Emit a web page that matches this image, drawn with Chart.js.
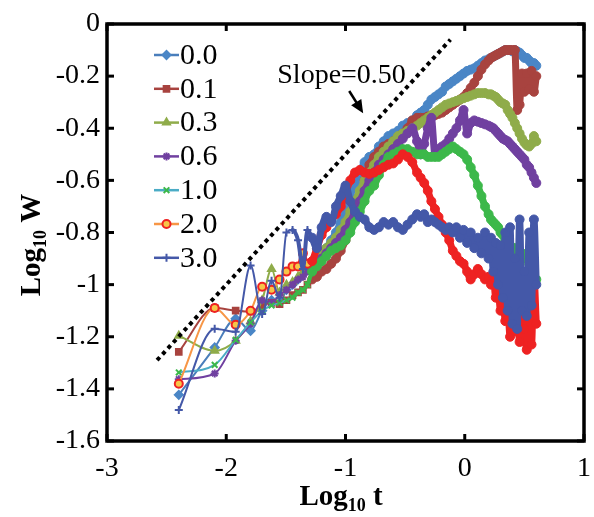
<!DOCTYPE html>
<html><head><meta charset="utf-8">
<script src="https://cdn.jsdelivr.net/npm/chart.js@4/dist/chart.umd.min.js"></script>
<style>html,body{margin:0;padding:0;background:#fff;}#wrap{width:594px;height:517px;}</style>
</head><body><div id="wrap"><canvas id="c" width="594" height="517"></canvas></div>
<script>
// ---- data (log10 t, log10 W) ----
const seriesNames = ['0.0','0.1','0.3','0.6','1.0','2.0','3.0'];
const logT = [
-2.398,-2.097,-1.921,-1.796,-1.699,-1.620,-1.553,-1.495,-1.444,-1.398,-1.357,-1.319,
-1.28,-1.24,-1.20,-1.16,-1.12,-1.08,-1.04,-1.00,-0.96,-0.92,-0.88,-0.84,-0.80,-0.76,-0.72,-0.68,-0.64,-0.60,-0.56,-0.52,-0.48,-0.44,-0.40,
-0.37,-0.34,-0.31,-0.28,-0.25,-0.22,-0.19,-0.16,-0.13,-0.10,-0.07,-0.04,-0.01,0.02,0.05,0.08,0.11,0.14,0.17,0.20,
0.22,0.24,0.26,0.28,0.30,0.32,0.34,0.36,0.38,0.40,0.42,0.44,0.46,0.48,0.50,0.52,0.54,0.56,0.58,0.60];
const w00 = [
-1.423,-1.241,-1.131,-1.177,-1.10,-1.06,-1.07,-1.02,-1.00,-0.98,-0.96,-0.94,
-0.93,-0.91,-0.88,-0.86,-0.83,-0.80,-0.76,-0.72,-0.66,-0.61,-0.57,-0.53,-0.51,-0.50,-0.47,-0.45,-0.43,-0.42,-0.41,-0.39,-0.38,-0.37,-0.35,
-0.34,-0.33,-0.31,-0.29,-0.28,-0.27,-0.26,-0.24,-0.23,-0.22,-0.21,-0.20,-0.19,-0.18,-0.175,-0.17,-0.16,-0.15,-0.14,-0.135,
-0.13,-0.125,-0.12,-0.115,-0.11,-0.105,-0.10,-0.10,-0.10,-0.105,-0.10,-0.105,-0.11,-0.12,-0.13,-0.13,-0.14,-0.15,-0.15,-0.16];
const w01 = [
-1.258,-1.09,-1.10,-1.104,-1.08,-1.07,-1.075,-1.06,-1.04,-1.03,-1.02,-1.00,
-0.98,-0.97,-0.95,-0.94,-0.92,-0.90,-0.87,-0.83,-0.78,-0.72,-0.66,-0.60,-0.54,-0.51,-0.49,-0.47,-0.46,-0.45,-0.44,-0.42,-0.40,-0.37,-0.36,
-0.36,-0.36,-0.355,-0.35,-0.35,-0.345,-0.34,-0.33,-0.32,-0.31,-0.30,-0.29,-0.28,-0.265,-0.245,-0.225,-0.20,-0.175,-0.155,-0.14,
-0.13,-0.125,-0.12,-0.115,-0.11,-0.105,-0.10,-0.10,-0.10,-0.10,-0.10,-0.33,-0.31,-0.19,-0.26,-0.19,-0.25,-0.18,-0.26,-0.20];
const w03 = [
-1.196,-1.254,-1.215,-1.141,-1.06,-0.94,-1.03,-1.00,-0.99,-0.97,-0.95,-0.93,
-0.92,-0.90,-0.88,-0.86,-0.84,-0.82,-0.79,-0.76,-0.72,-0.68,-0.64,-0.60,-0.57,-0.54,-0.51,-0.49,-0.47,-0.45,-0.43,-0.42,-0.41,-0.40,-0.39,
-0.38,-0.37,-0.36,-0.35,-0.34,-0.33,-0.32,-0.31,-0.305,-0.30,-0.295,-0.29,-0.285,-0.28,-0.275,-0.27,-0.265,-0.265,-0.265,-0.27,
-0.27,-0.275,-0.28,-0.29,-0.30,-0.305,-0.31,-0.33,-0.345,-0.36,-0.38,-0.40,-0.42,-0.44,-0.455,-0.465,-0.47,-0.46,-0.43,-0.45];
const w06 = [
-1.363,-1.341,-1.215,-1.15,-1.06,-1.07,-1.04,-1.02,-1.00,-0.98,-0.97,-0.95,
-0.93,-0.92,-0.90,-0.88,-0.86,-0.84,-0.82,-0.79,-0.76,-0.72,-0.68,-0.64,-0.60,-0.57,-0.54,-0.52,-0.50,-0.48,-0.46,-0.44,-0.42,-0.40,-0.45,
-0.50,-0.46,-0.40,-0.36,-0.50,-0.48,-0.47,-0.46,-0.44,-0.42,-0.40,-0.37,-0.33,-0.42,-0.38,-0.37,-0.375,-0.38,-0.385,-0.39,
-0.395,-0.40,-0.41,-0.42,-0.43,-0.44,-0.445,-0.45,-0.46,-0.47,-0.48,-0.49,-0.50,-0.51,-0.52,-0.54,-0.55,-0.57,-0.59,-0.61];
const w10 = [
-1.337,-1.308,-1.212,-1.145,-1.10,-1.08,-1.07,-1.06,-1.05,-1.03,-1.02,-1.00,
-0.95,-0.93,-0.91,-0.89,-0.87,-0.86,-0.85,-0.83,-0.80,-0.76,-0.72,-0.68,-0.64,-0.62,-0.58,-0.54,-0.51,-0.50,-0.49,-0.48,-0.48,-0.49,-0.50,
-0.50,-0.50,-0.51,-0.51,-0.51,-0.51,-0.50,-0.49,-0.48,-0.47,-0.48,-0.49,-0.50,-0.52,-0.55,-0.58,-0.62,-0.66,-0.70,-0.73,
-0.75,-0.76,-0.77,-0.78,-0.80,-0.81,-0.83,-0.84,-0.85,-0.86,-0.86,-0.87,-0.87,-0.88,-0.89,-0.90,-0.92,-0.94,-0.96,-0.98];
const w20 = [
-1.38,-1.09,-1.154,-1.10,-1.008,-1.02,-0.98,-0.95,-0.93,-0.93,-0.88,-0.92,
-0.91,-0.86,-0.81,-0.78,-0.75,-0.73,-0.70,-0.65,-0.60,-0.57,-0.56,-0.57,-0.575,-0.57,-0.56,-0.55,-0.54,-0.535,-0.52,-0.50,-0.51,-0.53,-0.57,
-0.59,-0.61,-0.64,-0.68,-0.71,-0.74,-0.77,-0.80,-0.83,-0.87,-0.89,-0.91,-0.92,-0.95,-0.98,-0.96,-0.94,-0.96,-0.98,-0.97,
-1.00,-0.97,-1.05,-1.02,-1.10,-1.05,-1.14,-1.08,-1.20,-1.12,-1.18,-1.10,-1.22,-1.05,-1.17,-1.25,-1.00,-1.23,-0.97,-1.15];
const w30 = [
-1.481,-1.169,-1.181,-0.927,-1.113,-0.985,-1.05,-0.80,-0.79,-0.83,-0.94,-0.79,
-0.82,-0.86,-0.78,-0.74,-0.76,-0.70,-0.66,-0.62,-0.68,-0.72,-0.74,-0.75,-0.78,-0.79,-0.78,-0.76,-0.77,-0.76,-0.78,-0.79,-0.77,-0.75,-0.73,
-0.74,-0.73,-0.76,-0.75,-0.76,-0.77,-0.78,-0.79,-0.78,-0.80,-0.78,-0.82,-0.79,-0.84,-0.80,-0.86,-0.82,-0.88,-0.80,-0.90,
-0.82,-0.95,-0.84,-1.00,-0.85,-1.05,-0.80,-1.10,-0.78,-1.15,-0.90,-1.17,-0.75,-1.10,-0.95,-1.12,-0.80,-1.08,-0.75,-1.00];
const slopeX = [-2.58, -0.12];
const slopeY = [-1.29, -0.06];
const slopeLabel = 'Slope=0.50';
const xTicks = [-3,-2,-1,0,1];
const yTicks = [0,-0.2,-0.4,-0.6,-0.8,-1,-1.2,-1.4,-1.6];

// ---- styles ----
const seriesValues = [w00,w01,w03,w06,w10,w20,w30];
const lineColors = ['#4a7ebb','#a8433f','#8fac4a','#7040a0','#4bacc6','#f79646','#4458a8'];
const bandColors = ['#4a86c6','#a8433f','#8fac4a','#7040a0','#3cb84a','#ee2222','#4458a8'];
const markerFill = ['#4a86c6','#a8433f','#8fac4a','#7040a0','#3cb84a','#f7c548','#4458a8'];
const markers = ['rectRot','rect','triangle','star','crossRot','circle','cross'];
const FONT = "'Liberation Serif','Times New Roman',serif";

function segW(x){ return x < -1.45 ? 2 : (x < -1.3 ? 4 : 7); }

const datasets = seriesValues.map((ys,i)=>({
  label: seriesNames[i],
  data: logT.map((x,j)=>({x:x, y:ys[j]})),
  showLine: true,
  cubicInterpolationMode: 'monotone',
  borderColor: lineColors[i],
  borderWidth: 2,
  borderJoinStyle: 'round',
  borderCapStyle: 'round',
  segment: {
    borderWidth: c => segW(c.p0.parsed.x),
    borderColor: c => c.p0.parsed.x < -1.45 ? lineColors[i] : bandColors[i]
  },
  pointStyle: c => (c.raw && c.raw.x >= -1.3) ? 'circle' : markers[i],
  pointRadius: c => (c.raw && c.raw.x >= -1.3) ? 4.5 : 4,
  pointBorderWidth: c => (c.raw && c.raw.x >= -1.3) ? 1 : 2,
  pointBorderColor: bandColors[i],
  pointBackgroundColor: c => (c.raw && c.raw.x >= -1.3) ? bandColors[i] : markerFill[i],
  order: 10 - i
}));
datasets.push({
  label: 'slope',
  data: slopeX.map((x,j)=>({x:x,y:slopeY[j]})),
  showLine: true, borderColor:'#000', borderWidth:4, borderDash:[4,4],
  pointRadius:0, order: 0
});

function fmt(v){ const r = Math.round(v*10)/10; if (r===0) return '0'; return Number.isInteger(r)? String(r) : r.toFixed(1); }

function drawTitle(ctx, x, y, rot, sub, tail){
  ctx.save();
  ctx.translate(x,y); ctx.rotate(rot);
  const big = "bold 29px " + FONT, small = "bold 18px " + FONT;
  ctx.font = big; const w1 = ctx.measureText('Log').width;
  ctx.font = small; const w2 = ctx.measureText(sub).width;
  ctx.font = big; const w3 = ctx.measureText(tail).width;
  let sx = -(w1+w2+w3)/2;
  ctx.fillStyle = '#000'; ctx.textBaseline = 'alphabetic'; ctx.textAlign='left';
  ctx.font = big; ctx.fillText('Log', sx, 0); sx += w1;
  ctx.font = small; ctx.fillText(sub, sx, 6); sx += w2;
  ctx.font = big; ctx.fillText(tail, sx, 0);
  ctx.restore();
}

const decor = {
  id: 'decor',
  afterDraw(chart){
    const ctx = chart.ctx, a = chart.chartArea;
    const xs = chart.scales.x, ys = chart.scales.y;
    ctx.save();
    // ticks (inside)
    ctx.strokeStyle = '#000'; ctx.lineWidth = 3; ctx.lineCap='butt';
    const tl = 7;
    xTicks.forEach(v=>{
      const px = xs.getPixelForValue(v);
      ctx.beginPath(); ctx.moveTo(px, a.bottom); ctx.lineTo(px, a.bottom - tl); ctx.stroke();
      ctx.beginPath(); ctx.moveTo(px, a.top); ctx.lineTo(px, a.top + tl); ctx.stroke();
    });
    yTicks.forEach(v=>{
      const py = ys.getPixelForValue(v);
      ctx.beginPath(); ctx.moveTo(a.left, py); ctx.lineTo(a.left + tl, py); ctx.stroke();
      ctx.beginPath(); ctx.moveTo(a.right, py); ctx.lineTo(a.right - tl, py); ctx.stroke();
    });
    // frame
    ctx.lineWidth = 3.5; ctx.lineJoin='miter';
    ctx.strokeRect(a.left, a.top, a.right-a.left, a.bottom-a.top);
    // slope annotation
    ctx.fillStyle = '#000'; ctx.font = "28px " + FONT; ctx.textAlign='left'; ctx.textBaseline='alphabetic';
    ctx.fillText(slopeLabel, xs.getPixelForValue(-1.572), ys.getPixelForValue(-0.226));
    const ax0 = xs.getPixelForValue(-0.969), ay0 = ys.getPixelForValue(-0.257);
    const ax1 = xs.getPixelForValue(-0.852), ay1 = ys.getPixelForValue(-0.342);
    const ang = Math.atan2(ay1-ay0, ax1-ax0);
    ctx.lineWidth = 2.5;
    ctx.beginPath(); ctx.moveTo(ax0, ay0); ctx.lineTo(ax1 - 8*Math.cos(ang), ay1 - 8*Math.sin(ang)); ctx.stroke();
    ctx.beginPath();
    ctx.moveTo(ax1, ay1);
    ctx.lineTo(ax1 - 13*Math.cos(ang) + 6*Math.sin(ang), ay1 - 13*Math.sin(ang) - 6*Math.cos(ang));
    ctx.lineTo(ax1 - 13*Math.cos(ang) - 6*Math.sin(ang), ay1 - 13*Math.sin(ang) + 6*Math.cos(ang));
    ctx.closePath(); ctx.fill();
    // legend
    const lx0 = 154, lx1 = 179, ly0 = 55, step = 33.8;
    seriesNames.forEach((n,i)=>{
      const y = ly0 + i*step;
      ctx.strokeStyle = lineColors[i]; ctx.lineWidth = 2.5;
      ctx.beginPath(); ctx.moveTo(lx0, y); ctx.lineTo(lx1, y); ctx.stroke();
      ctx.strokeStyle = bandColors[i]; ctx.fillStyle = markerFill[i]; ctx.lineWidth = 2;
      Chart.helpers.drawPoint(ctx, {pointStyle: markers[i], radius: 4, borderWidth: 2, rotation: 0}, (lx0+lx1)/2, y);
      ctx.fillStyle = '#000'; ctx.font = "30px " + FONT; ctx.textBaseline='middle'; ctx.textAlign='left';
      ctx.fillText(n, lx1 + 1, y + 1);
    });
    // axis titles
    drawTitle(ctx, 341, 505, 0, '10', ' t');
    drawTitle(ctx, 40, 245, -Math.PI/2, '10', ' W');
    ctx.restore();
  }
};

new Chart(document.getElementById('c'), {
  type: 'scatter',
  data: { datasets },
  options: {
    responsive: false, animation: false, events: [],
    layout: { padding: { left: 0, right: 10, top: 24, bottom: 0 } },
    plugins: { legend: { display: false }, tooltip: { enabled: false } },
    scales: {
      x: {
        type: 'linear', min: -3, max: 1,
        afterBuildTicks: s => { s.ticks = xTicks.map(v=>({value:v})); },
        afterFit: s => { s.height = 76; s.paddingLeft = 0; s.paddingRight = 0; },
        grid: { display: false, drawTicks: false }, border: { display: false },
        ticks: { color: '#000', font: { family: FONT, size: 28 }, padding: 11, callback: v => fmt(v), maxRotation: 0 }
      },
      y: {
        type: 'linear', min: -1.6, max: 0,
        afterBuildTicks: s => { s.ticks = yTicks.map(v=>({value:v})); },
        afterFit: s => { s.width = 107; s.paddingTop = 0; s.paddingBottom = 0; },
        grid: { display: false, drawTicks: false }, border: { display: false },
        ticks: { color: '#000', font: { family: FONT, size: 28 }, padding: 7, callback: v => fmt(v) }
      }
    }
  },
  plugins: [decor]
});
</script></body></html>
